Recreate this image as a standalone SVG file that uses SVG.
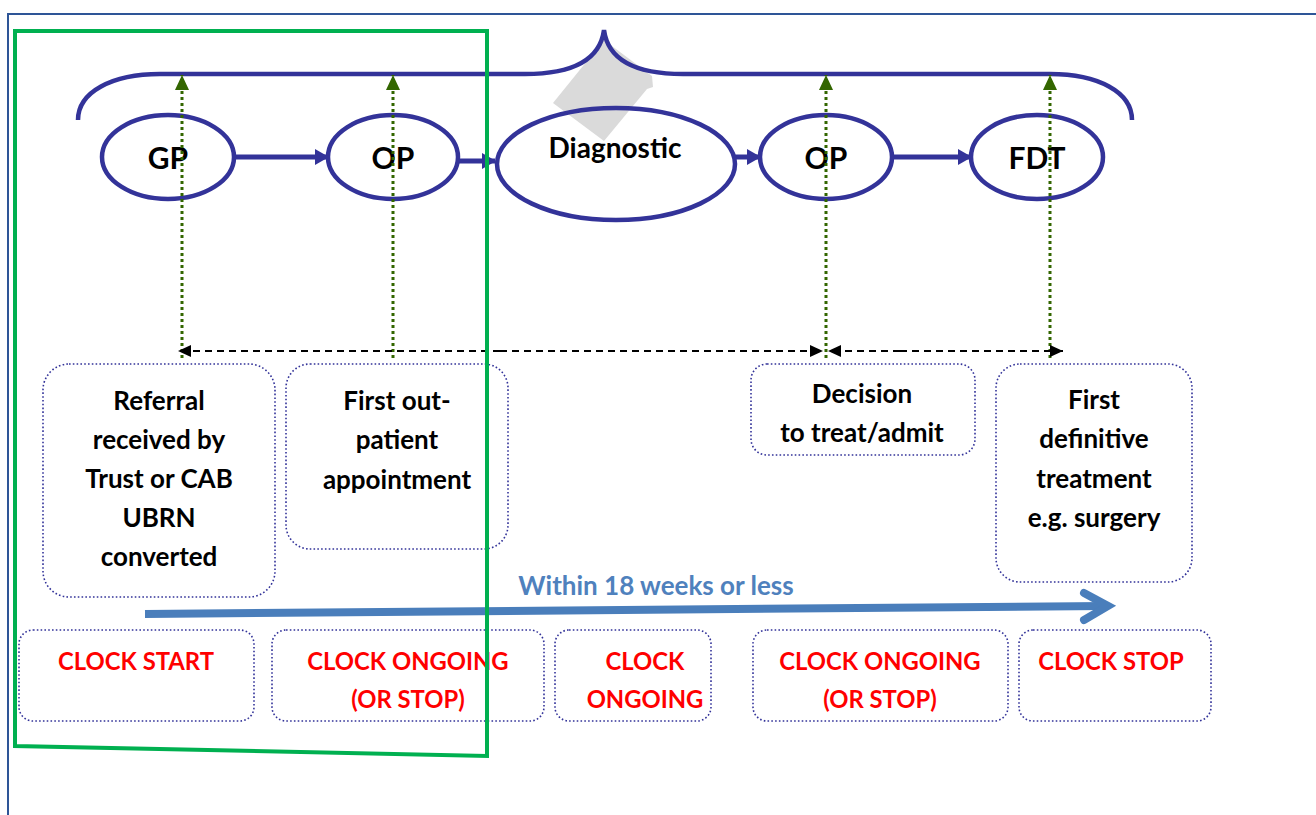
<svg xmlns="http://www.w3.org/2000/svg" width="1316" height="815" viewBox="0 0 1316 815">
<defs>
<style>
.ell{fill:#fff;stroke:#333399;stroke-width:4.5}
.ellf{fill:#fff;stroke:none}
.ells{fill:none;stroke:#333399;stroke-width:4.5}
.brace{fill:none;stroke:#333399;stroke-width:4.5}
.flow{stroke:#333399;stroke-width:5;fill:none}
.gdot{stroke:#336600;stroke-width:3;stroke-dasharray:3 3;fill:none}
.dash{stroke:#000;stroke-width:1.8;stroke-dasharray:7 5;fill:none}
.box{fill:none;stroke:#333399;stroke-width:1.6;stroke-dasharray:1.6 2.2}
.t{font-family:Lato,"Liberation Sans",sans-serif;font-weight:bold;text-anchor:middle;fill:#000}
.lbl{font-size:26px}
.big{font-size:30px}
.diag{font-size:28px}
.red{font-size:23.8px;fill:#FF0000}
.blue{font-size:26px;fill:#4F81BD}
</style>
<marker id="fa" markerUnits="userSpaceOnUse" markerWidth="16" markerHeight="18" refX="13" refY="9" orient="auto">
<path d="M0,1 L14,9 L0,17 Z" fill="#333399"/>
</marker>
<marker id="ga" markerUnits="userSpaceOnUse" markerWidth="16" markerHeight="14" refX="15" refY="7" orient="auto">
<path d="M0,0 L15,7 L0,14 Z" fill="#336600"/>
</marker>
<marker id="ba" markerUnits="userSpaceOnUse" markerWidth="14" markerHeight="14" refX="13" refY="7" orient="auto">
<path d="M0,1 L13,7 L0,13 Z" fill="#000"/>
</marker>
</defs>

<rect width="1316" height="815" fill="#fff"/>
<path d="M8,815 L8,14 L1316,14" fill="none" stroke="#2E5597" stroke-width="2"/>

<g id="connectors">
<line class="flow" x1="234" y1="157" x2="328" y2="157" marker-end="url(#fa)"/>
<line class="flow" x1="459" y1="161" x2="495" y2="161" marker-end="url(#fa)"/>
<line class="flow" x1="735" y1="157" x2="760" y2="157" marker-end="url(#fa)"/>
<line class="flow" x1="892" y1="157" x2="971" y2="157" marker-end="url(#fa)"/>
</g>

<g id="node-gp"><ellipse class="ell" cx="168" cy="157" rx="66" ry="42"/><text class="t big" x="168" y="169">GP</text></g>
<g id="node-op1"><ellipse class="ell" cx="393" cy="157" rx="65" ry="42"/><text class="t big" x="393" y="169">OP</text></g>
<g id="node-diagnostic"><ellipse class="ellf" cx="616" cy="164" rx="119" ry="56"/>
<polygon id="gray-shape" points="604,40 652,76 653,87 647,89 604,141 553,103" fill="#DADADA"/>
<ellipse class="ells" cx="616" cy="164" rx="119" ry="56"/><text class="t diag" x="615" y="158">Diagnostic</text></g>
<g id="node-op2"><ellipse class="ell" cx="826" cy="157" rx="66" ry="42"/><text class="t big" x="826" y="169">OP</text></g>
<g id="node-fdt"><ellipse class="ell" cx="1037" cy="157" rx="66" ry="42"/><text class="t big" x="1037" y="169">FDT</text></g>

<path id="brace" class="brace" d="M78,120 C78,92 112,74 160,74 L525,74 C572,74 600,60 604,30 C608,60 636,74 683,74 L1050,74 C1098,74 1132,92 1132,120"/>

<g id="milestone-connectors">
<line class="gdot" x1="182" y1="358" x2="182" y2="75" marker-end="url(#ga)"/>
<line class="gdot" x1="393" y1="358" x2="393" y2="75" marker-end="url(#ga)"/>
<line class="gdot" x1="826" y1="358" x2="826" y2="75" marker-end="url(#ga)"/>
<line class="gdot" x1="1050" y1="358" x2="1050" y2="75" marker-end="url(#ga)"/>
<line class="dash" x1="500" y1="351" x2="178" y2="351" marker-end="url(#ba)"/>
<line class="dash" x1="500" y1="351" x2="823" y2="351" marker-end="url(#ba)"/>
<line class="dash" x1="900" y1="351" x2="828" y2="351" marker-end="url(#ba)"/>
<line class="dash" x1="900" y1="351" x2="1063" y2="351" marker-end="url(#ba)"/>
</g>

<g id="box-referral"><rect class="box" x="43" y="364" width="232" height="233" rx="26"/>
<text class="t lbl" x="159" y="410">Referral</text>
<text class="t lbl" x="159" y="449">received by</text>
<text class="t lbl" x="159" y="488">Trust or CAB</text>
<text class="t lbl" x="159" y="527">UBRN</text>
<text class="t lbl" x="159" y="566">converted</text></g>

<g id="box-first-op"><rect class="box" x="286" y="364" width="222" height="185" rx="24"/>
<text class="t lbl" x="397" y="410">First out-</text>
<text class="t lbl" x="397" y="449">patient</text>
<text class="t lbl" x="397" y="489">appointment</text></g>

<g id="box-decision"><rect class="box" x="751" y="364" width="224" height="91" rx="16"/>
<text class="t lbl" x="862" y="403">Decision</text>
<text class="t lbl" x="862" y="442">to treat/admit</text></g>

<g id="box-fdt"><rect class="box" x="996" y="364" width="196" height="218" rx="24"/>
<text class="t lbl" x="1094" y="409">First</text>
<text class="t lbl" x="1094" y="448">definitive</text>
<text class="t lbl" x="1094" y="488">treatment</text>
<text class="t lbl" x="1094" y="527">e.g. surgery</text></g>

<g id="timeline">
<text class="t blue" x="656" y="595">Within 18 weeks or less</text>
<path d="M145,614 L1106,606" stroke="#4A7EBB" stroke-width="8" fill="none"/>
<path d="M1084,593 L1108,606 L1084,620" stroke="#4A7EBB" stroke-width="8" fill="none" stroke-linecap="round" stroke-linejoin="miter"/>
</g>

<g id="clock-start"><rect class="box" x="19" y="630" width="235" height="91" rx="14"/><text class="t red" x="136" y="670">CLOCK START</text></g>
<g id="clock-ongoing-1"><rect class="box" x="272" y="630" width="272" height="91" rx="14"/><text class="t red" x="408" y="670">CLOCK ONGOING</text><text class="t red" x="408" y="708">(OR STOP)</text></g>
<g id="clock-ongoing-2"><rect class="box" x="555" y="630" width="156" height="91" rx="14"/><text class="t red" x="645" y="670">CLOCK</text><text class="t red" x="645" y="708">ONGOING</text></g>
<g id="clock-ongoing-3"><rect class="box" x="753" y="630" width="255" height="91" rx="14"/><text class="t red" x="880" y="670">CLOCK ONGOING</text><text class="t red" x="880" y="708">(OR STOP)</text></g>
<g id="clock-stop"><rect class="box" x="1019" y="630" width="192" height="91" rx="14"/><text class="t red" x="1111" y="670">CLOCK STOP</text></g>

<path id="green-frame" d="M15,31 L487,31 L487,756 L15,746 Z" fill="none" stroke="#00B050" stroke-width="4"/>
</svg>
